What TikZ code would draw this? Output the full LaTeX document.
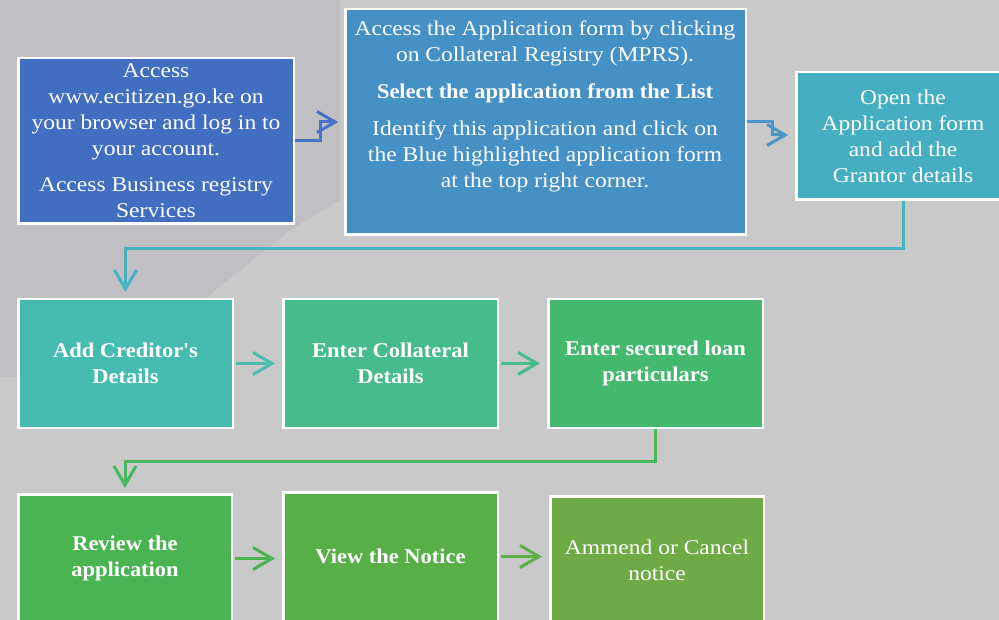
\documentclass[tikz,border=0pt]{standalone}
\usepackage{fontspec}
\setmainfont{Liberation Serif}[FakeStretch=1.12, BoldFeatures={FakeStretch=1.07}]
\usetikzlibrary{arrows.meta}
\definecolor{bg}{HTML}{C9C9C9}
\definecolor{wm}{HTML}{C0BFC4}
\definecolor{cA}{HTML}{416EC1}
\definecolor{cB}{HTML}{4590C4}
\definecolor{cC}{HTML}{45AEC0}
\definecolor{cD}{HTML}{45BCAF}
\definecolor{cE}{HTML}{46BB8C}
\definecolor{cF}{HTML}{45B870}
\definecolor{cG}{HTML}{4BB452}
\definecolor{cH}{HTML}{58AF48}
\definecolor{cI}{HTML}{6EAA46}
\definecolor{lA}{HTML}{4472C4}
\definecolor{lB}{HTML}{4A95C6}
\definecolor{lC}{HTML}{45B3C0}
\definecolor{lD}{HTML}{4ABDAE}
\definecolor{lE}{HTML}{46BB8C}
\definecolor{lF}{HTML}{45B860}
\definecolor{lG}{HTML}{4DB350}
\definecolor{lH}{HTML}{5FAE48}
\begin{document}
\begin{tikzpicture}[x=1pt,y=-1pt,
  box/.style={draw=white, line width=2.5pt, inner sep=0pt, text=white, align=center,
    font=\fontsize{21}{26}\selectfont},
  txt/.style={inner sep=0pt, text=white, align=center, font=\fontsize{21}{26}\selectfont},
  bbox/.style={box, font=\fontsize{21}{26}\selectfont\bfseries},
  conn/.style={line width=3pt, -{Straight Barb[length=19pt,width=22pt]}},
  elbow/.style={line width=3pt, -{Straight Barb[length=18pt,width=21pt]}}]
\useasboundingbox (0,0) rectangle (999,620);
\clip (0,0) rectangle (999,620);
\fill[bg] (0,0) rectangle (999,620);
\fill[wm] (0,25) -- (0,0) -- (340,0) -- (340,200) -- (290,230) -- (108,377) -- (0,377) -- cycle;

% row 1
\node[box, fill=cA, minimum width=275.5pt, minimum height=165.5pt] (b1) at (156,141)
  {Access\\www.ecitizen.go.ke on\\your browser and log in to\\your account.\\[10pt]Access Business registry\\Services};
\node[box, fill=cB, minimum width=400.5pt, minimum height=225.5pt] (b2) at (545.5,122) {};
\node[txt] (t2) at (545,106)
  {Access the Application form by clicking\\on Collateral Registry (MPRS).\\[11pt]\textbf{Select the application from the List}\\[11pt]Identify this application and click on\\the Blue highlighted application form\\at the top right corner.};
\node[box, fill=cC, minimum width=213.5pt, minimum height=127.5pt] (b3) at (903,136)
  {Open the\\Application form\\and add the\\Grantor details};

% row 2
\node[bbox, fill=cD, minimum width=214.5pt, minimum height=128.5pt] (b4) at (125.5,363.5)
  {Add Creditor\textquotesingle s\\Details};
\node[bbox, fill=cE, minimum width=214.5pt, minimum height=128.5pt] (b5) at (390.5,363.5)
  {Enter Collateral\\Details};
\node[bbox, fill=cF, minimum width=214.5pt, minimum height=128.5pt] (b6) at (655.5,363.5)
  {Enter secured loan\\particulars};

% row 3
\node[bbox, fill=cG, minimum width=213.5pt, minimum height=128.5pt] (b7) at (125,558.5)
  {Review the\\application};
\node[bbox, fill=cH, minimum width=214.5pt, minimum height=128.5pt] (b8) at (390.5,556.5)
  {View the Notice};
\node[box, fill=cI, minimum width=213.5pt, minimum height=128.5pt] (b9) at (657,560.5)
  {Ammend or Cancel\\notice};

% connectors
\draw[elbow, lA, shorten >=6pt] (b1.east) -- (320,141) -- (320,122) -- (b2.west |- 0,122);
\draw[elbow, lB, shorten >=7pt] (b2.east) -- (772,122) -- (772,135) -- (b3.west |- 0,135);
\draw[conn, lC, shorten >=6pt] (b3.south) -- (b3.south |- 0,249) -| (b4.north);
\draw[conn, lD, shorten <=2pt, shorten >=7pt] (b4.east) -- (b5.west);
\draw[conn, lE, shorten <=2pt, shorten >=7pt] (b5.east) -- (b6.west);
\draw[conn, lF, shorten >=5pt] (b6.south) -- (b6.south |- 0,461) -| (b7.north);
\draw[conn, lG, shorten <=2pt, shorten >=7pt] (b7.east) -- (b7.east -| b8.west);
\draw[conn, lH, shorten <=2pt, shorten >=7pt] (b8.east) -- (b8.east -| b9.west);
\end{tikzpicture}
\end{document}
